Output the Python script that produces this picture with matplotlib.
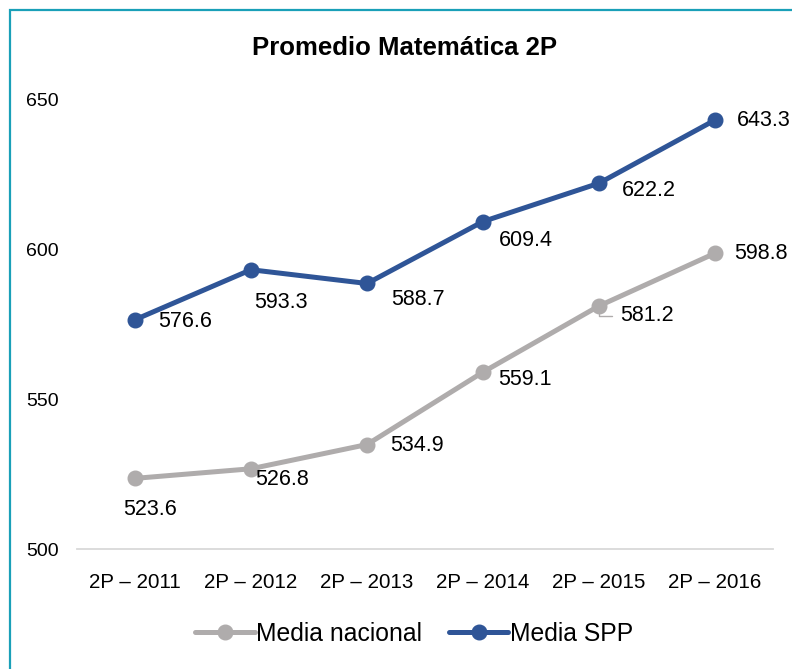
import matplotlib
matplotlib.use("Agg")
import matplotlib.pyplot as plt
from matplotlib.patches import Rectangle

categories = ["2P – 2011", "2P – 2012", "2P – 2013", "2P – 2014", "2P – 2015", "2P – 2016"]
media_nacional = [523.6, 526.8, 534.9, 559.1, 581.2, 598.8]
media_spp = [576.6, 593.3, 588.7, 609.4, 622.2, 643.3]
yticks = [500, 550, 600, 650]

# label offsets in pixels (dx, dy)
off_spp = [(50, -2), (30, -33), (51, -16), (43, -19), (50, -7), (49, 0)]
off_nac = [(15, -31), (31, -11), (50, -1), (42, -7), (48, -10), (46, 0)]

plt.rcParams['font.family'] = ['Liberation Sans', 'DejaVu Sans']

W, H = 792, 669
fig = plt.figure(figsize=(W / 100, H / 100), dpi=100)
fig.patch.set_facecolor('white')

ax_left, ax_right = 77, 773
ax_top, ax_bottom = 100, 549
ax = fig.add_axes([ax_left / W, 1 - ax_bottom / H, (ax_right - ax_left) / W, (ax_bottom - ax_top) / H])

gray = '#AFACAC'
blue = '#2F5597'
x = list(range(len(categories)))

ax.plot(x, media_nacional, color=gray, lw=3.6, marker='o', ms=10.5, label='Media nacional',
        solid_capstyle='round', clip_on=False, zorder=3)
ax.plot(x, media_spp, color=blue, lw=3.6, marker='o', ms=10.5, label='Media SPP',
        solid_capstyle='round', clip_on=False, zorder=4)

for xi, v, (dx, dy) in zip(x, media_spp, off_spp):
    ax.annotate(f"{v:.1f}", (xi, v), xytext=(dx, dy), textcoords='offset pixels',
                ha='center', va='center', fontsize=15.5, color='#000000', annotation_clip=False)
for xi, v, (dx, dy) in zip(x, media_nacional, off_nac):
    ax.annotate(f"{v:.1f}", (xi, v), xytext=(dx, dy), textcoords='offset pixels',
                ha='center', va='center', fontsize=15.5, color='#000000', annotation_clip=False)

# leader line for 581.2
ax.annotate('', xy=(4, media_nacional[4]), xytext=(13, -10), textcoords='offset pixels',
            arrowprops=dict(arrowstyle='-', color=gray, lw=1,
                            connectionstyle='angle,angleA=0,angleB=90', shrinkA=0, shrinkB=6))

ax.set_xlim(-0.5, len(categories) - 0.5)
ax.set_ylim(500, 650)
ax.set_yticks(yticks)
ax.set_yticklabels([str(t) for t in yticks], fontsize=14)
ax.set_xticks(x)
ax.set_xticklabels(categories, fontsize=14.8)
ax.tick_params(axis='y', length=0, pad=13)
ax.tick_params(axis='x', length=0, pad=17)
for s in ['top', 'right', 'left']:
    ax.spines[s].set_visible(False)
ax.spines['bottom'].set_color('#D9D9D9')
ax.spines['bottom'].set_linewidth(1.3)
ax.set_facecolor('none')

fig.text(405 / W, 1 - 48 / H, "Promedio Matemática 2P", ha='center', va='center',
         fontsize=18.5, fontweight='bold')

fig.legend(loc='center', bbox_to_anchor=(414 / W, 1 - 634 / H), ncol=2, frameon=False,
           fontsize=17.8, handlelength=2.4, handletextpad=0.05, columnspacing=1.1)

fig.add_artist(Rectangle((10 / W, -0.1), 1.2, (1 - 10 / H) + 0.1, transform=fig.transFigure,
                         fill=False, edgecolor='#1AA0B8', lw=1.6))

fig.savefig('out.png', dpi=100)
